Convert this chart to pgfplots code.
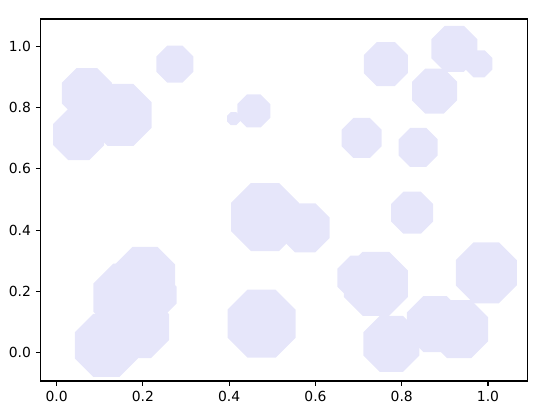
\documentclass[border=0pt]{standalone}
\usepackage{fontspec}
\setmainfont{DejaVu Sans}
\usepackage{pgfplots}
\pgfplotsset{compat=1.18}

\definecolor{lav}{RGB}{230,230,250}

% octagon with flat top, mark size = inradius
\pgfdeclareplotmark{octagon}{%
  \pgfpathmoveto{\pgfpointpolar{22.5}{1.0824\pgfplotmarksize}}%
  \pgfpathlineto{\pgfpointpolar{67.5}{1.0824\pgfplotmarksize}}%
  \pgfpathlineto{\pgfpointpolar{112.5}{1.0824\pgfplotmarksize}}%
  \pgfpathlineto{\pgfpointpolar{157.5}{1.0824\pgfplotmarksize}}%
  \pgfpathlineto{\pgfpointpolar{202.5}{1.0824\pgfplotmarksize}}%
  \pgfpathlineto{\pgfpointpolar{247.5}{1.0824\pgfplotmarksize}}%
  \pgfpathlineto{\pgfpointpolar{292.5}{1.0824\pgfplotmarksize}}%
  \pgfpathlineto{\pgfpointpolar{337.5}{1.0824\pgfplotmarksize}}%
  \pgfpathclose
  \pgfusepathqfill
}

% x, y, marker width in px
\pgfplotstableread{
x y w
0.070 0.847 50
0.051 0.712 51
0.148 0.776 62
0.274 0.942 37
0.410 0.764 13
0.457 0.789 33
0.763 0.942 44
0.922 0.992 46
0.979 0.943 27
0.876 0.854 45
0.707 0.701 40
0.838 0.670 39
0.824 0.457 42
0.996 0.261 61
0.740 0.225 64
0.702 0.245 44
0.776 0.029 56
0.877 0.094 56
0.933 0.077 58
0.576 0.408 49
0.483 0.443 68
0.475 0.095 68
0.205 0.248 60
0.232 0.188 40
0.164 0.180 68
0.189 0.084 62
0.115 0.024 63
}\pts

\begin{document}
\begin{tikzpicture}
\begin{axis}[
    scale only axis,
    width=350.6pt, height=260.6pt,
    xmin=-0.037, xmax=1.092,
    ymin=-0.092, ymax=1.089,
    xtick={0,0.2,0.4,0.6,0.8,1.0},
    ytick={0,0.2,0.4,0.6,0.8,1.0},
    tick align=outside,
    tick pos=left,
    major tick length=3.5pt,
    tick style={black, line width=0.8pt},
    axis line style={line width=0.8pt},
    ticklabel style={font=\fontsize{10}{12}\selectfont},
    /pgf/number format/.cd, fixed, fixed zerofill, precision=1, assume math mode=true,
]
\addplot[
    only marks, mark=octagon, color=lav,
    visualization depends on={0.36*\thisrow{w} \as \msz},
    scatter,
    scatter/use mapped color={fill=lav, draw=lav},
    scatter/@pre marker code/.append style={/tikz/mark size=\msz pt},
] table[x=x, y=y] {\pts};
\end{axis}
\path (current axis.south west) ++(-29.3pt,-25.2pt) coordinate (bl);
\path (current axis.north east) ++(17.5pt,13.7pt) coordinate (tr);
\path (bl) rectangle (tr);
\end{tikzpicture}
\end{document}
